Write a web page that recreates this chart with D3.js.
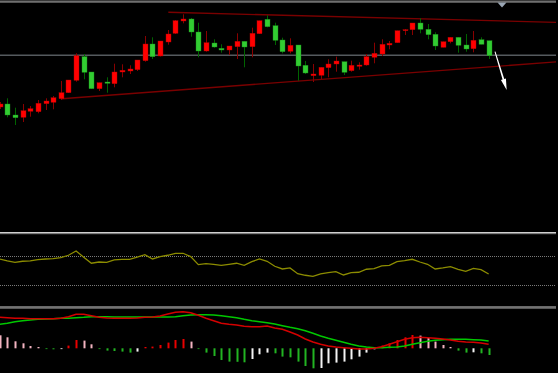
<!DOCTYPE html>
<html><head><meta charset="utf-8">
<script src="https://cdn.jsdelivr.net/npm/d3@7"></script>
<style>html,body{margin:0;padding:0;background:#000;overflow:hidden}svg{display:block}</style>
</head><body>
<svg id="chart" width="558" height="373"></svg>
<script>
// ---------- data ----------
const opens  = [124,127,116,113.7,119.7,119.3,127.3,128.7,132.3,138.3,
                150.7,174.3,159,142.3,149,147.3,159,160,161.3,170.3,
                187,175,189,197.7,210,212,199,180,188,182.7,
                181,184.3,189.7,184.3,197.3,211.7,205.3,191,179.7,186,
                165.7,155.3,155.7,163.3,167,169.3,160.3,164.7,166,173.7,
                177,186,188.3,200.3,201.3,208,201.7,196.7,183.7,189.3,
                193.7,186,182.3,191.3,190.3];
const highs  = [129,132.7,123.3,127,125,131,132.7,135,150,151,
                177.7,177,159,148.3,153.7,167.3,166.7,165.7,171,195,
                193.7,190,201,211,216.7,213,208.3,200,191.7,186.7,
                185,197.7,189.7,203.3,210.3,215.7,208.3,193.3,192.7,186,
                170,167,163.7,171.7,174.3,169.3,170.3,168.7,177,188.3,
                191.7,190,200.3,202,208,212.7,207,198.7,189.3,193.7,
                193.7,197,200,193.7,190.3];
const lows   = [122,113.7,106,109,114.3,117.7,121,121.7,131,138,
                149.3,151.7,142,140,138.3,143.7,153.7,157,160,169.3,
                172,174.5,186.3,197,207.7,194.3,173.7,179.3,183.3,178.3,
                176,172,163.7,173.7,197,203.7,186,177.7,177.7,150.3,
                157,149,152,153.7,159.3,156,159.3,161.3,165.3,167.7,
                175,181.7,188.3,196,196,197.7,191.7,181,183.7,187.7,
                178.3,179.3,178.7,186.7,172];
const closes = [127,116,113.3,120.3,122.3,127.7,130,133.3,138.3,151,
                175.3,158.7,142.3,148.3,147.7,159,160.7,162,171,187,
                174.3,190,197,210.3,212,199,180,188.3,184,181,
                185,189.7,184,197.7,210.3,204.3,190.7,179.3,185.7,165,
                158,157,163.7,167,170,158.7,165.7,166,174.3,177.7,
                186.7,187.7,200.3,201.3,208,201.7,196.3,185,189.3,193.7,
                185.7,182,190.7,186.7,175.3];
const rsi    = [65.9,63.2,61.4,62.8,63.2,65.0,65.9,66.3,67.7,71.0,
                76.9,68.3,60.1,61.8,61.4,64.6,65.5,65.5,68.3,71.8,
                65.9,69.1,71.0,73.7,73.7,69.1,58.2,59.5,58.7,57.3,
                58.7,60.1,57.3,62.3,65.9,62.8,56.0,52.3,53.7,45.9,
                43.7,42.3,45.5,47.2,48.6,44.1,47.2,47.8,51.9,52.7,
                56.4,57.3,62.3,63.6,65.5,61.8,58.7,52.3,53.7,55.4,
                51.9,49.1,53.2,51.3,45.5];
const rsiLevels = [70, 30];
const dif    = [31.0,30.6,30.0,30.0,29.6,29.6,29.6,29.6,30.0,31.6,
                34.0,34.0,32.6,31.0,30.3,30.0,30.0,30.0,30.3,31.0,
                31.3,32.3,34.3,36.0,36.6,35.6,33.0,30.0,27.6,25.0,
                24.0,23.3,22.0,21.6,21.6,22.3,20.3,19.0,16.3,13.3,
                9.3,6.3,4.0,2.3,1.3,0.6,0.0,-0.7,-0.7,0.0,
                1.6,4.0,6.6,9.0,10.6,11.0,10.6,10.0,9.3,8.3,
                7.0,6.3,6.0,5.3,4.0];
const dea    = [24.0,25.0,26.6,27.6,28.3,29.0,29.3,29.6,30.0,30.0,
                30.6,31.0,31.6,31.6,31.6,31.3,31.3,31.3,31.3,31.3,
                31.3,31.3,31.3,31.6,32.6,33.3,33.6,33.6,33.3,32.6,
                31.6,30.6,29.0,27.6,26.6,25.6,24.3,22.6,21.0,19.6,
                17.6,15.0,12.3,10.0,8.0,6.0,4.0,2.3,1.3,0.6,
                0.6,1.0,1.3,2.3,4.0,5.6,7.0,8.0,8.6,9.0,
                9.0,9.0,8.6,8.3,7.3];
const macdHist = [13,11,7,5,2.3,1.3,-0.7,-1,-0.6,2.7,
                8.3,7.7,4,-0.7,-2.3,-2.7,-3.3,-4.3,-3.3,1.3,
                1.7,3.3,5.7,8.3,9.3,6.7,-0.7,-4.3,-7.7,-11.7,
                -13.3,-13.5,-14,-10.7,-6,-4.3,-5,-8.3,-9,-13.3,
                -17.7,-20,-19.7,-15,-14.3,-13.3,-11,-8.3,-4.3,-1,
                2.7,5,8.3,11,13.3,12.7,10.3,6.7,3.3,1.3,
                -2.3,-4.3,-4,-5,-6.7];
// chart objects: horizontal level, trend lines, arrow (bar index, price)
const hLevel = 175.7;
const trendUpper = [{i: 22.07, p: 218.7}, {i: 73, p: 208.6}];
const trendLower = [{i: 8.11, p: 132.3}, {i: 73, p: 169.2}];
const arrowPts = [{i: 64.83, p: 179.3}, {i: 66.36, p: 141}];

// ---------- layout ----------
const W = 558, H = 373, plotR = 556;
const svg = d3.select("#chart");
svg.append("rect").attr("width", W).attr("height", H).attr("fill", "#000");

const n = opens.length;
const x = d3.scaleLinear().domain([0, 73]).range([-0.3, 557.42]);
const yP = d3.scaleLinear().domain([0, 231]).range([231, 0]);
const yR = d3.scaleLinear().domain([0, 100]).range([307.3, 234]);
const yM = d3.scaleLinear().domain([-24.7, 39.3]).range([373, 309]);

const defs = svg.append("defs");
function clip(id, y0, y1) {
  defs.append("clipPath").attr("id", id).append("rect")
    .attr("x", 0).attr("y", y0).attr("width", plotR).attr("height", y1 - y0);
  return `url(#${id})`;
}

// ---------- main panel ----------
const gMain = svg.append("g").attr("clip-path", clip("cMain", 2.5, 231.5));
gMain.append("line").attr("x1", 0).attr("x2", plotR)
  .attr("y1", yP(hLevel)).attr("y2", yP(hLevel))
  .attr("stroke", "#555a5e").attr("stroke-width", 1.6);

const tl = d3.line().x(d => x(d.i)).y(d => yP(d.p));
[trendUpper, trendLower].forEach(t => gMain.append("path").attr("d", tl(t))
  .attr("fill", "none").attr("stroke", "#7a0000").attr("stroke-width", 1.4));

const idx = d3.range(n);
const up = i => closes[i] >= opens[i];
gMain.append("g").selectAll("line").data(idx).join("line")
  .attr("x1", i => Math.round(x(i)) + 0.5).attr("x2", i => Math.round(x(i)) + 0.5)
  .attr("y1", i => yP(highs[i])).attr("y2", i => yP(lows[i]))
  .attr("stroke", i => up(i) ? "#8a0000" : "#006400").attr("stroke-width", 1);
gMain.append("g").selectAll("rect").data(idx).join("rect")
  .attr("x", i => Math.round(x(i)) - 2)
  .attr("width", 5)
  .attr("y", i => yP(Math.max(opens[i], closes[i])))
  .attr("height", i => Math.max(1, Math.abs(yP(opens[i]) - yP(closes[i]))))
  .attr("fill", i => up(i) ? "#ff0000" : "#32cd32")
  .attr("stroke", i => up(i) ? "#b00000" : "#1a8a1a").attr("stroke-width", 0.4);

// arrow
{
  const ax0 = x(arrowPts[0].i), ay0 = yP(arrowPts[0].p);
  const ax1 = x(arrowPts[1].i), ay1 = yP(arrowPts[1].p);
  const dx = ax1 - ax0, dy = ay1 - ay0, L = Math.hypot(dx, dy);
  const ux = dx / L, uy = dy / L, px = -uy, py = ux;
  const hb = 0.72; // head base fraction
  const bx = ax0 + dx * hb, by = ay0 + dy * hb;
  gMain.append("path")
    .attr("d", `M${ax0 - px * 0.5},${ay0 - py * 0.5} L${ax0 + px * 0.5},${ay0 + py * 0.5}
      L${bx + px * 0.9},${by + py * 0.9} L${bx + px * 2.6},${by + py * 2.6} L${ax1},${ay1}
      L${bx - px * 2.6},${by - py * 2.6} L${bx - px * 0.9},${by - py * 0.9} Z`)
    .attr("fill", "#ffffff");
}

// top border + shift marker
svg.append("rect").attr("x", 0).attr("y", 0.5).attr("width", plotR).attr("height", 1).attr("fill", "#6e6e6e");
svg.append("rect").attr("x", 0).attr("y", 1.5).attr("width", plotR).attr("height", 1).attr("fill", "#a8a8a8");
svg.append("path").attr("d", "M497.5,2.5 L506.5,2.5 L502,7.5 Z").attr("fill", "#9aa6b4");

// separators
function sep(y) {
  svg.append("rect").attr("x", 0).attr("y", y).attr("width", plotR).attr("height", 1).attr("fill", "#d0d0d0");
  svg.append("rect").attr("x", 0).attr("y", y + 1).attr("width", plotR).attr("height", 1.2).attr("fill", "#7c7c7c");
}
sep(232);
sep(306.5);

// ---------- RSI panel ----------
const gR = svg.append("g").attr("clip-path", clip("cRsi", 234.5, 306));
gR.selectAll("line.lvl").data(rsiLevels).join("line").attr("class", "lvl")
  .attr("x1", 0).attr("x2", plotR)
  .attr("y1", d => Math.round(yR(d)) + 0.5).attr("y2", d => Math.round(yR(d)) + 0.5)
  .attr("stroke", "#7a7a7a").attr("stroke-width", 1).attr("stroke-dasharray", "1,1");
gR.append("path").attr("d", d3.line().x((d, i) => x(i)).y(d => yR(d))(rsi))
  .attr("fill", "none").attr("stroke", "#8c8c00").attr("stroke-width", 1.3);

// ---------- MACD panel ----------
const gM = svg.append("g").attr("clip-path", clip("cMacd", 308.5, 373));
const histColor = (v, i) => {
  const prev = i > 0 ? macdHist[i - 1] : v + 1;
  if (v >= 0) return v >= prev ? "#e80000" : "#f2b3c0";
  return v <= prev ? "#22b422" : "#f4f4f4";
};
gM.append("g").selectAll("rect").data(macdHist).join("rect")
  .attr("x", (d, i) => Math.round(x(i)) - 0.5)
  .attr("width", 2)
  .attr("y", d => Math.min(yM(0), yM(d)))
  .attr("height", d => Math.max(0.8, Math.abs(yM(d) - yM(0))))
  .attr("fill", histColor);
gM.append("path").attr("d", d3.line().x((d, i) => x(i)).y(d => yM(d))(dea))
  .attr("fill", "none").attr("stroke", "#00c800").attr("stroke-width", 1.5);
gM.append("path").attr("d", d3.line().x((d, i) => x(i)).y(d => yM(d))(dif))
  .attr("fill", "none").attr("stroke", "#d40000").attr("stroke-width", 1.5);
</script>
</body></html>
